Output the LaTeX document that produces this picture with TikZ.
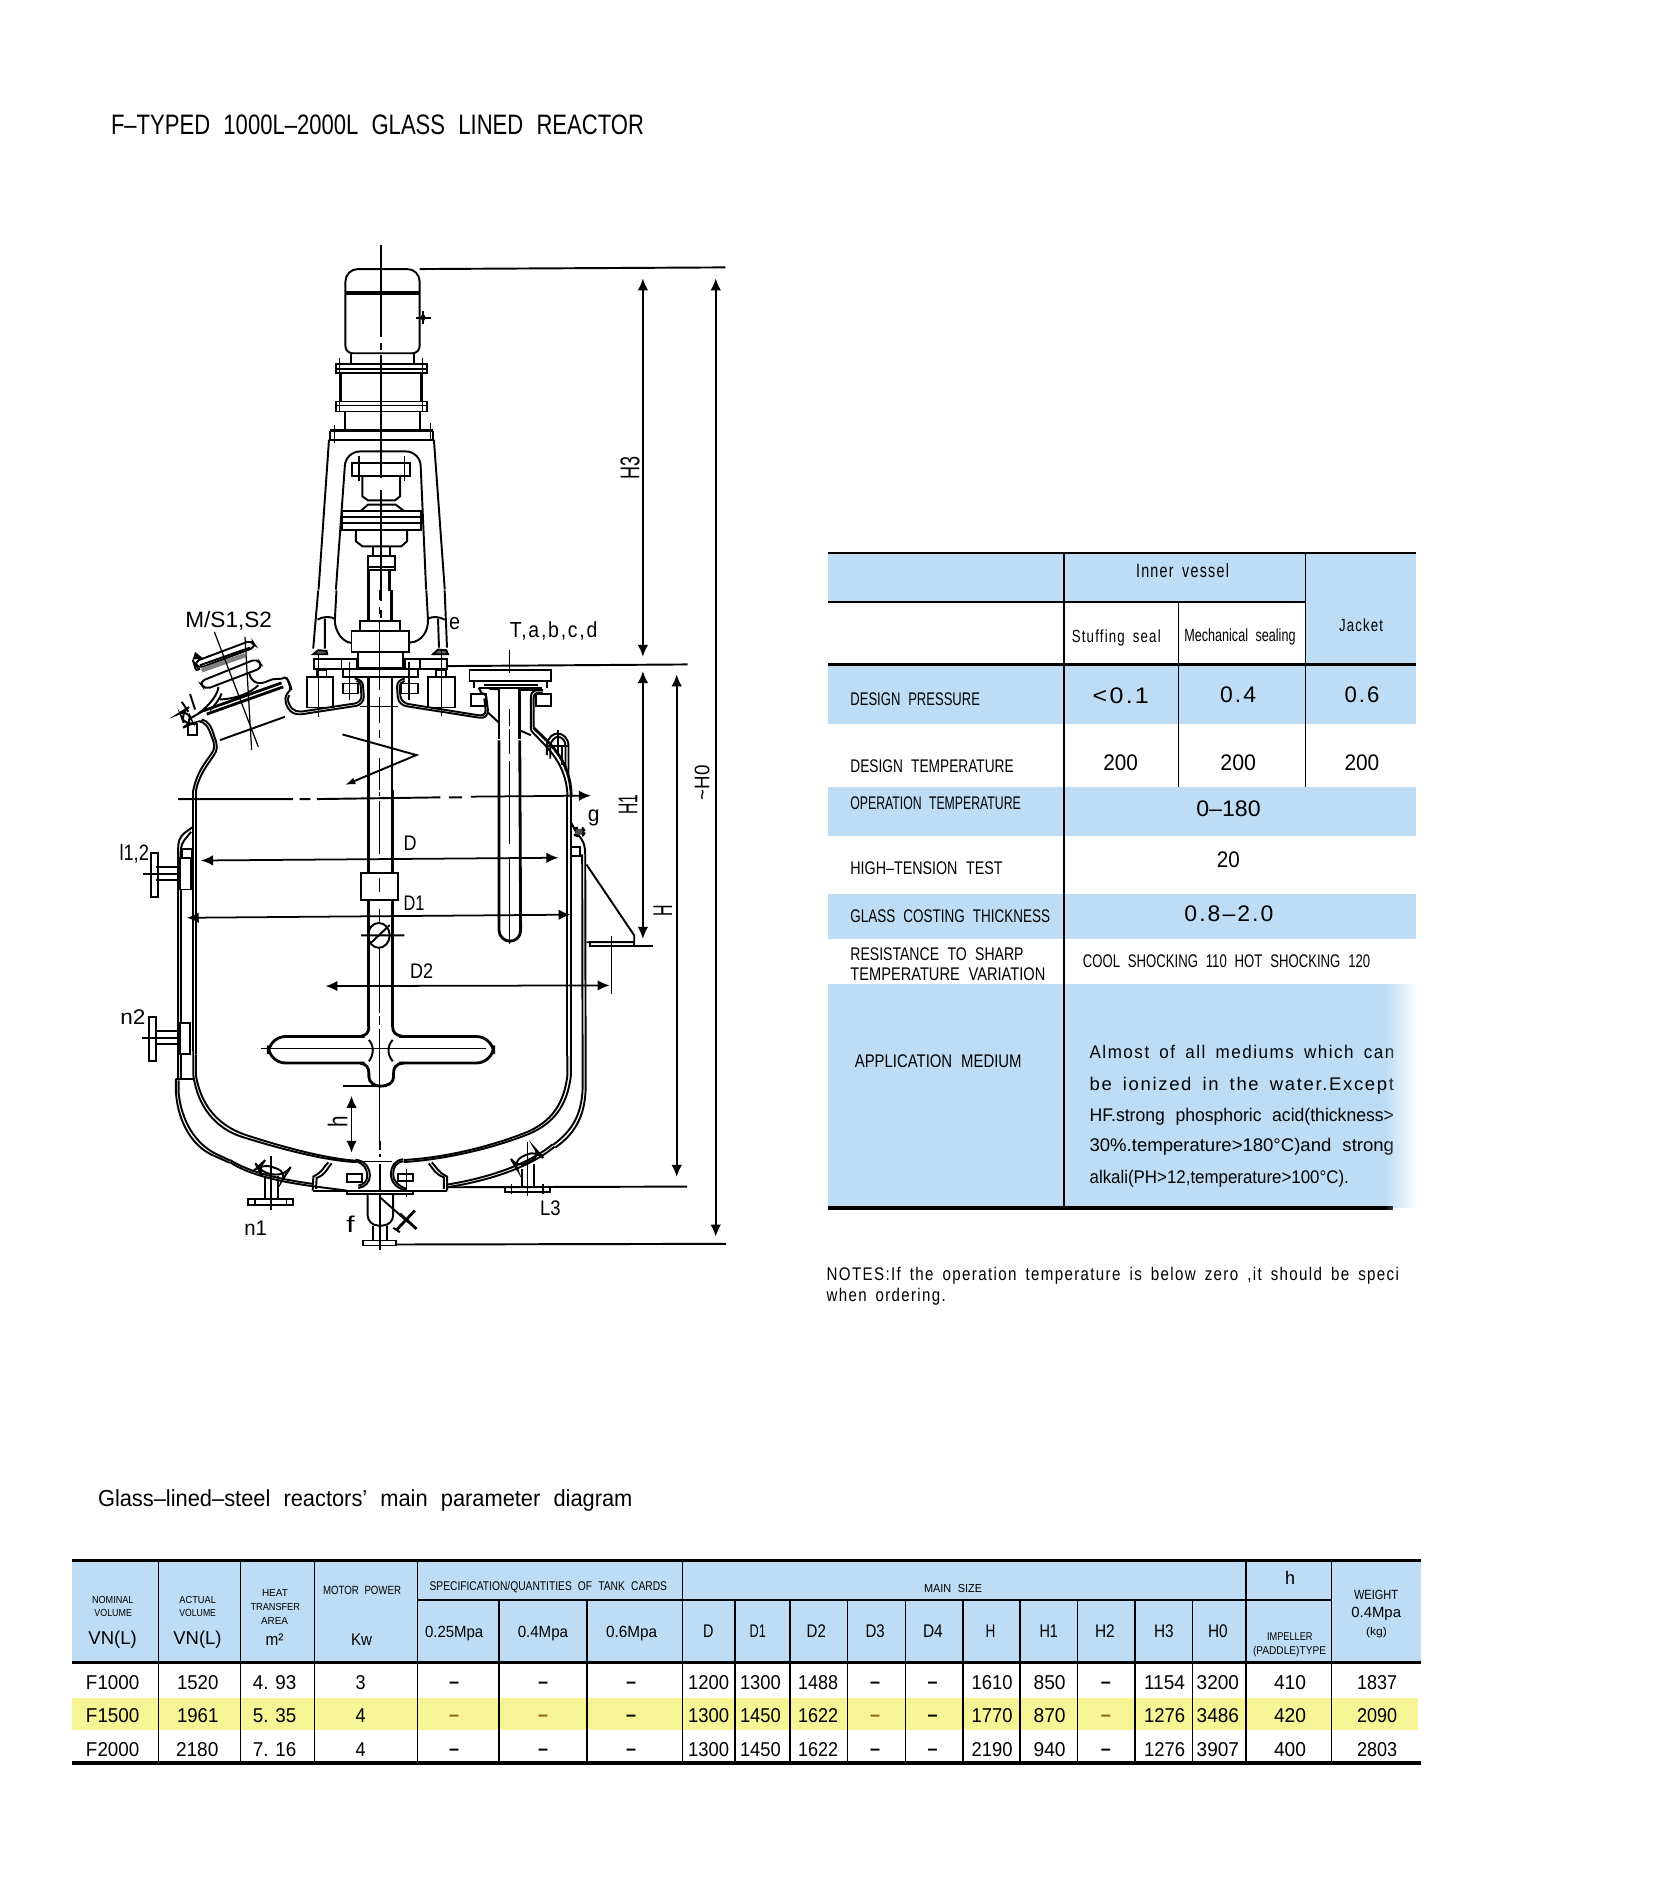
\documentclass[tikz,border=0pt]{standalone}
\usepackage{graphicx}
\usepackage{fontspec}
\setmainfont{Liberation Sans}
\usetikzlibrary{arrows.meta,fadings}
\definecolor{hblue}{RGB}{190,221,244}
\definecolor{hyel}{RGB}{247,244,150}
\definecolor{dashbr}{RGB}{140,105,20}
\newlength\pxu\setlength\pxu{0.01cm}
\newcounter{tn}
\newcommand{\ls}{\addfontfeature{LetterSpace=9}}
% x1 x2 baseline size text
\newcommand{\TL}[5]{\stepcounter{tn}\pgfmathsetmacro\tlwidth{#2-#1}\node[anchor=base west,inner sep=0pt,outer sep=0pt] (t\arabic{tn}) at (#1,#3) {\fontsize{#4}{#4}\selectfont\spaceskip=0.6em\resizebox{\tlwidth\pxu}{\height}{#5}};}
% centre-x centre-y length size text (rotated)
\newcommand{\TR}[5]{\stepcounter{tn}\node[anchor=center,rotate=90,inner sep=0pt,outer sep=0pt] (t\arabic{tn}) at (#1,#2) {\fontsize{#4}{#4}\selectfont\resizebox{#3\pxu}{\height}{#5}};}
\tikzset{
 ln/.style={line width=0.55pt},
 thn/.style={line width=0.35pt},
 hvy/.style={line width=0.8pt},
 rule/.style={line width=0.4pt},
 rulethick/.style={line width=0.75pt},
 dimboth/.style={line width=0.5pt,{Latex[length=3.4pt,width=3pt]}-{Latex[length=3.4pt,width=3pt]}},
 dimend/.style={line width=0.5pt,-{Latex[length=3.4pt,width=3pt]}},
 zone/.style={xshift=1cm,yshift=-2.3cm,x=0.004336cm,y=-0.003333cm},
 zlow/.style={xshift=1cm,yshift=-7.4cm,x=0.004336cm,y=-0.003444cm},
 zthree/.style={xshift=1.7cm,yshift=-5.9cm,x=0.003333cm,y=-0.003333cm},
 zneck/.style={xshift=5cm,yshift=-6.4cm,x=0.003333cm,y=-0.003333cm},
 zfoot/.style={xshift=2.3cm,yshift=-11.4cm,x=0.003333cm,y=-0.003333cm}
}
\begin{document}
\begin{tikzpicture}[x=0.01cm,y=-0.01cm]
\useasboundingbox (0,0) rectangle (1653,1889);
\fill[white] (0,0) rectangle (1653,1889);

\TL{111}{644}{135}{8}{F–TYPED 1000L–2000L GLASS LINED REACTOR}

% ===== reactor, upper part
\begin{scope}[zone]
\draw[thn] (648,45)--(648,320) (648,340)--(648,360) (648,375)--(648,745) (648,780)--(648,1115) (648,1140)--(648,1165);
% motor
\draw[ln,rounded corners=3.5pt] (566,190)--(566,117)--(737,117)--(737,190);
\draw[ln] (566,186)--(737,186) (566,193)--(737,193);
\draw[ln,rounded corners=2pt] (566,190)--(566,370)--(737,370)--(737,190);
\draw[ln] (728,263)--(764,263) (745,243)--(745,283);
\fill (745,250)--(752,263)--(745,276)--(738,263)--cycle;
\draw[ln] (578,370)--(578,403) (723,370)--(723,403);
% reducer flanges
\draw[ln] (545,403) rectangle (755,430) (545,418)--(755,418);
\draw[ln] (545,515) rectangle (755,545) (545,527)--(755,527);
\draw[ln] (556,430)--(556,515) (740,430)--(740,515);
\draw[thn] (553,385)--(553,545) (743,385)--(743,545);
\draw[ln] (566,545)--(566,603) (738,545)--(738,603);
% lantern
\draw[hvy] (530,603)--(767,603);
\draw[ln] (530,603)--(530,630)--(767,630)--(767,603);
\draw[thn] (540,585)--(540,640) (762,580)--(762,632);
\draw[ln] (528,630)--(504,1080) (770,630)--(795,1080);
\draw[ln,rounded corners=4pt] (544,1080)--(567,665)--(738,665)--(752,1080);
% coupling
\draw[ln] (582,700) rectangle (715,738);
\draw[thn] (597,680)--(597,755) (703,680)--(703,755);
\draw[ln] (605,738)--(605,800)--(618,812)--(680,812)--(692,800)--(692,738);
\draw[ln] (600,845)--(618,825)--(682,825)--(702,845);
\draw[ln] (558,845) rectangle (740,900) (558,862)--(740,862) (558,880)--(740,880);
\draw[ln] (590,900)--(590,935)--(605,950)--(695,950)--(708,935)--(708,900);
\draw[ln] (630,950)--(630,980) (668,950)--(668,980);
\draw[ln] (617,980) rectangle (680,1020) (617,1013)--(680,1013);
\draw[hvy] (620,1020)--(620,1085) (668,1020)--(668,1085);
% T nozzle
\draw[ln] (852,1322) rectangle (1040,1355);
\draw[ln] (862,1355)--(862,1375) (1030,1355)--(1030,1375);
\draw[ln] (873,1375)--(1020,1375) (885,1366)--(1010,1366);
\draw[ln] (855,1395) rectangle (890,1430) (1005,1395) rectangle (1040,1430);
\draw[hvy] (920,1380)--(920,1530) (968,1380)--(968,1530);
\draw[ln] (873,1375)--(880,1390) (920,1380)--(897,1378);
\draw[ln] (895,1450)--(920,1480);
\draw[thn] (945,1262)--(945,1330) (945,1440)--(945,1490) (945,1500)--(945,1530);
% H3 / H0 / H1 / H
\draw[dimboth] (1252,145)--(1252,1282);
\draw[-{Latex[length=3.4pt,width=3pt]},line width=0.5pt] (1420,1540)--(1420,145);
\draw[-{Latex[length=3.4pt,width=3pt]},line width=0.5pt] (1252,1540)--(1252,1325);
\draw[-{Latex[length=3.4pt,width=3pt]},line width=0.5pt] (1330,1540)--(1330,1335);
\draw[ln] (737,117)--(1442,112);
\draw[ln] (800,1310)--(1355,1305);
\end{scope}

% ===== head of the vessel
\begin{scope}[zthree]
% lantern feet
\draw[ln] (445,0)--(430,175) (825,0)--(832,172);
\draw[ln] (500,0)--(495,90) .. controls (495,120) and (515,155) .. (545,158);
\draw[ln] (770,0)--(775,90) .. controls (775,125) and (755,155) .. (720,157);
\draw[ln] (443,88) .. controls (460,78) and (480,78) .. (495,85);
\draw[ln] (775,85) .. controls (790,78) and (805,78) .. (825,88);
\draw[ln] (465,85)--(465,175) (805,85)--(808,172);
\draw[ln,fill=black!60] (430,192)--(445,180)--(470,182)--(472,192)--cycle;
\draw[ln,fill=black!60] (790,192)--(805,178)--(830,180)--(835,192)--cycle;
% stuffing stack
\draw[hvy] (595,0)--(595,92) (665,0)--(665,92);
\draw[ln] (572,92) rectangle (692,122);
\draw[ln] (545,122) rectangle (718,185);
\draw[ln] (565,185) rectangle (700,232);
\draw[ln] (432,205) rectangle (515,235) (515,205) rectangle (560,235);
\draw[ln] (705,205) rectangle (750,235) (750,205) rectangle (832,235);
\draw[ln] (520,235) rectangle (745,260);
\draw[thn] (630,0)--(630,30) (630,50)--(630,70) (630,90)--(630,300) (630,320)--(630,400) (630,420)--(630,445) (630,505)--(630,600);
% pedestals
\draw[ln] (410,260) rectangle (490,352) (775,260) rectangle (855,352);
\draw[ln] (440,240) rectangle (470,260) (800,240) rectangle (830,260);
\draw[thn] (447,195)--(447,380) (815,180)--(815,378);
\draw[ln] (520,280) rectangle (565,310) (695,280) rectangle (745,310);
\draw[thn] (538,215)--(538,330) (718,215)--(718,330);
% shaft
\draw[hvy] (595,262)--(595,600) (667,262)--(667,600);
\draw[thn] (570,348)--(595,348) (595,348)--(667,348) (667,348)--(685,348);
% head liner
\draw[ln] (555,265) .. controls (572,268) and (580,275) .. (580,290)--(582,320) .. controls (582,335) and (570,345) .. (560,347)--(410,370) .. controls (385,375) and (362,375) .. (350,345) .. controls (345,330) and (345,320) .. (352,310) .. controls (365,300) and (362,290) .. (350,262);
\draw[ln] (560,272) .. controls (570,275) and (573,280) .. (573,292)--(575,318) .. controls (575,330) and (565,338) .. (555,340)--(410,362) .. controls (385,367) and (368,365) .. (358,342) .. controls (352,328) and (353,322) .. (358,315);
\draw[ln] (705,265) .. controls (692,268) and (682,275) .. (682,290)--(684,320) .. controls (686,340) and (700,347) .. (715,349)--(925,382) .. controls (945,386) and (955,378) .. (955,360)--(950,320) .. controls (945,310) and (940,308) .. (930,308);
\draw[ln] (705,272) .. controls (697,275) and (690,280) .. (690,292)--(692,318) .. controls (694,332) and (705,340) .. (718,342)--(925,375) .. controls (940,378) and (948,372) .. (948,360)--(944,325);
% manhole
\draw[ln,rounded corners=1.5pt] (72,215)--(245,150)--(258,170)--(85,235)--cycle;
\draw[line width=1.3pt,gray] (95,240)--(225,195);
\draw[ln] (90,225)--(240,172);
\draw[ln,rounded corners=1.5pt] (88,275)--(262,205)--(278,232)--(105,298)--cycle;
\fill (68,208)--(75,185)--(100,205)--cycle;
\draw[ln] (68,208)--(78,240) (78,240)--(90,235);
\draw[ln] (238,250) .. controls (245,280) and (270,285) .. (295,272) .. controls (310,262) and (335,270) .. (345,262) .. controls (355,265) and (362,285) .. (365,300);
\draw[ln] (145,290) .. controls (145,310) and (120,345) .. (85,370);
\draw[ln] (155,310) .. controls (150,325) and (135,345) .. (120,360);
\draw[ln] (150,328) .. controls (200,325) and (240,310) .. (265,285);
\draw[hvy] (110,372)--(340,290);
\draw[hvy] (100,362)--(335,278);
\draw[ln,rounded corners=3pt] (30,368)--(50,355)--(68,400)--(45,410)--cycle;
\draw[ln] (55,402) rectangle (80,435);
\draw[ln] (60,312)--(75,358) (35,335)--(55,365);
\draw[ln] (60,385)--(100,362);
\draw[ln] (85,393) .. controls (105,395) and (115,410) .. (125,440) .. controls (135,465) and (135,475) .. (125,490) .. controls (100,525) and (80,550) .. (70,600);
\draw[ln] (95,388) .. controls (115,392) and (125,410) .. (133,440) .. controls (143,465) and (143,480) .. (132,495) .. controls (108,530) and (88,555) .. (78,600);
\draw[thn] (133,125)--(265,470) (225,140)--(245,480);
\draw[ln] (150,450)--(345,380);
% zigzag
\draw[ln,-{Latex[length=3pt,width=2pt]}] (518,433)--(740,495)--(525,585);
\end{scope}

% ===== T nozzle neck, lug, top right of the shell
\begin{scope}[zneck]
\draw[ln] (58,150)--(128,150);
\draw[ln] (128,150)--(106,150) .. controls (97,152) and (92,160) .. (92,172)--(92,270);
\draw[ln] (128,158)--(110,158) .. controls (103,160) and (100,165) .. (100,175)--(100,262);
\draw[ln] (58,270)--(92,285);
\draw[ln] (92,270) .. controls (125,310) and (200,360) .. (202,470);
\draw[hvy] (100,262) .. controls (135,300) and (212,350) .. (213,470);
\draw[ln] (140,345)--(140,315) .. controls (142,290) and (160,280) .. (172,280) .. controls (190,280) and (205,295) .. (205,318)--(205,400);
\draw[ln] (150,355)--(150,318) .. controls (152,300) and (165,290) .. (172,290) .. controls (185,290) and (196,300) .. (196,318)--(196,392);
\draw[ln] (140,316)--(205,316) (172,270)--(172,345) (185,316)--(185,375);
\end{scope}

% ===== reactor, lower part
\begin{scope}[zlow]
\draw[thn] (645,150)--(645,160) (645,175)--(645,330) (645,400)--(645,440) (645,490)--(645,530) (645,600)--(645,790) (645,800)--(645,825) (645,835)--(645,1180);
% shaft
\draw[hvy] (620,145)--(620,830) (675,145)--(675,830);
\draw[ln,fill=white] (602,385) rectangle (688,462);
\draw[thn] (645,400)--(645,440);
\draw[ln] (643,565) ellipse (25 and 36);
\draw[ln] (602,565)--(702,565) (622,590)--(668,535);
% impeller
\draw[hvy,rounded corners=5pt] (610,858)--(388,858)--(388,935)--(610,935);
\draw[hvy,rounded corners=5pt] (690,858)--(908,858)--(908,935)--(690,935);
\draw[hvy] (620,830) .. controls (620,845) and (615,855) .. (600,858);
\draw[hvy] (675,830) .. controls (675,845) and (680,855) .. (700,858);
\draw[hvy] (600,935) .. controls (615,938) and (620,950) .. (620,965)--(620,975) .. controls (620,992) and (635,1002) .. (645,1002) .. controls (665,1002) and (677,992) .. (677,975)--(677,965) .. controls (677,950) and (680,938) .. (700,935);
\draw[thn] (372,893)--(890,893);
\draw[ln] (620,868) .. controls (632,885) and (632,910) .. (620,930);
\draw[ln] (675,868) .. controls (662,885) and (662,910) .. (675,930);
\draw[ln] (560,1002)--(645,1002);
% section line
\draw[ln] (180,170)--(445,170) (460,170)--(485,170) (500,170)--(785,165) (805,165)--(835,165);
\draw[line width=0.5pt,-{Latex[length=3.4pt,width=3pt]}] (855,163)--(1132,160);
% vessel shell
\draw[ln] (215,145)--(215,900);
\draw[ln] (221,145)--(221,910);
\draw[ln] (1078,165)--(1078,915) (1086,165)--(1086,915);
% vessel dish
\draw[ln] (215,900)--(215,970) .. controls (225,1060) and (265,1125) .. (330,1150) .. controls (420,1185) and (520,1218) .. (590,1222);
\draw[ln] (221,910)--(221,970) .. controls (232,1055) and (270,1115) .. (335,1143) .. controls (420,1178) and (520,1212) .. (590,1218);
\draw[ln] (1086,915)--(1086,970) .. controls (1078,1060) and (1045,1110) .. (990,1140) .. controls (900,1185) and (790,1215) .. (700,1222);
\draw[ln] (1078,915)--(1078,970) .. controls (1070,1055) and (1040,1105) .. (985,1135) .. controls (895,1180) and (790,1210) .. (700,1216);
% jacket
\draw[ln] (215,250)--(195,268) .. controls (183,280) and (180,295) .. (180,315)--(180,980);
\draw[ln] (210,265)--(200,280) .. controls (190,295) and (186,305) .. (186,325)--(186,380);
\draw[ln] (186,432)--(186,820) (186,910)--(186,980);
\draw[ln] (175,980)--(215,980);
\draw[ln] (175,980)--(175,1020) .. controls (180,1110) and (215,1180) .. (265,1205)--(299,1224);
\draw[ln] (181,985)--(181,1020) .. controls (188,1105) and (220,1170) .. (270,1200)--(299,1217);
\draw[ln] (1085,235)--(1100,270) .. controls (1112,285) and (1119,300) .. (1119,330)--(1120,1010) .. controls (1118,1090) and (1095,1140) .. (1050,1180);
\draw[ln] (1112,330)--(1113,1010) .. controls (1110,1085) and (1090,1130) .. (1045,1172);
\draw[ln] (1085,310) rectangle (1108,335);
% g valve
\draw[line width=1.1pt,densely dotted] (1105,265) circle (11);
\fill[black!70] (1105,265) circle (9);
% l1,2 nozzle
\draw[ln] (118,325) rectangle (133,455);
\draw[ln] (130,367)--(185,367) (130,405)--(185,405);
\draw[ln] (100,388)--(185,388);
\draw[ln] (188,315) rectangle (212,340);
\draw[ln,fill=white] (185,340) rectangle (210,432);
% n2 nozzle
\draw[ln] (113,802) rectangle (130,928);
\draw[ln] (128,843)--(185,843) (128,880)--(185,880);
\draw[ln] (97,863)--(185,863);
\draw[ln] (185,820) rectangle (207,908);
% T tube
\draw[hvy] (920,0)--(920,550) .. controls (920,570) and (935,582) .. (945,582) .. controls (958,582) and (970,570) .. (970,550)--(968,0);
\draw[thn] (945,-5)--(945,40) (945,60)--(945,300) (945,340)--(945,590);
% bracket
\draw[ln] (1122,360)--(1232,565)--(1232,585)--(1122,585);
\draw[ln] (1130,585) rectangle (1232,597);
\draw[ln] (1232,597)--(1275,597);
\draw[thn] (1180,568)--(1180,735);
% dimension arrows
\draw[dimboth] (233,348)--(1057,340);
\draw[dimboth] (200,514)--(1085,505);
\draw[dimboth] (520,712)--(1175,710);
\draw[dimboth] (580,1030)--(580,1195);
\draw[dimend] (1252,0)--(1252,575);
\draw[dimend] (1330,0)--(1330,1265);
\draw[dimend] (1420,0)--(1420,1438);
\end{scope}

% ===== bottom nozzles and feet
\begin{scope}[zfoot]
\draw[thn] (450,0)--(450,28) (450,40)--(450,50) (450,70)--(450,330);
% n1
\draw[ln] (55,175) rectangle (190,193);
\draw[ln] (105,105)--(105,175) (143,105)--(143,175);
\draw[thn] (123,45)--(123,208) (75,175)--(75,193) (170,175)--(170,193);
\draw[ln,rounded corners=3pt] (82,80)--(95,68)--(172,95)--(165,106)--(90,96)--cycle;
% jacket bottom
\draw[ln] (0,65) .. controls (60,105) and (160,125) .. (250,137);
\draw[ln] (0,58) .. controls (60,97) and (160,118) .. (250,130);
\draw[ln] (250,137)--(350,150);
\draw[ln] (975,18) .. controls (900,80) and (780,120) .. (652,140);
\draw[ln] (969,11) .. controls (895,72) and (775,112) .. (652,132);
% outlet necks
\draw[ln] (248,150)--(250,108) .. controls (280,92) and (280,80) .. (295,65);
\draw[ln] (258,145)--(260,112) .. controls (290,100) and (290,85) .. (305,68);
\draw[ln] (652,150)--(652,108) .. controls (625,95) and (620,80) .. (606,65);
\draw[ln] (642,145)--(642,110) .. controls (615,100) and (610,85) .. (597,68);
\draw[ln] (248,150)--(652,150);
% lobes
\draw[ln] (377,62) .. controls (402,68) and (412,85) .. (412,105) .. controls (412,122) and (402,132) .. (385,135);
\draw[ln] (377,57) .. controls (410,62) and (420,85) .. (420,105) .. controls (420,125) and (405,140) .. (385,142);
\draw[ln] (520,62) .. controls (498,65) and (490,80) .. (490,100) .. controls (490,125) and (510,138) .. (530,145);
\draw[ln] (520,56) .. controls (495,58) and (483,78) .. (483,100) .. controls (483,128) and (505,145) .. (530,150);
\draw[ln] (350,100) rectangle (395,125) (505,100) rectangle (550,122);
\draw[thn] (345,62)--(485,62) (530,85)--(530,170);
% flange
\draw[ln,fill=white] (350,150) rectangle (550,160);
\draw[hvy] (350,151)--(550,151);
% tail
\draw[ln,rounded corners=3pt] (413,160)--(413,255)--(490,255)--(490,160);
\draw[ln] (430,255)--(430,300) (470,255)--(470,300);
\draw[ln] (400,300) rectangle (498,315);
\draw[ln] (498,312)--(1490,310);
\draw[ln] (450,170)--(535,245);
\draw[hvy] (500,268)--(555,210) (510,220)--(560,265);
\draw[ln] (490,262)--(510,275);
% L3
\draw[ln] (825,140) rectangle (960,155);
\draw[ln] (878,85)--(878,140) (912,70)--(912,140);
\draw[thn] (893,5)--(893,165) (845,130)--(845,160) (940,130)--(940,160);
\draw[ln,rounded corners=3pt] (848,62)--(920,28)--(935,45)--(860,82)--cycle;
\draw[ln] (652,140)--(1373,138);
\end{scope}

% drawing labels
\TL{185.4}{272}{627.3}{6.3}{M/S1,S2}
\TL{449}{460}{629.3}{6.4}{e}
\TL{509.8}{597.4}{637.3}{6.2}{\ls T,a,b,c,d}
\TL{119.5}{149}{860.5}{6.3}{l1,2}
\TL{120.4}{145.5}{1024}{6}{n2}
\TL{587.9}{599.6}{821}{6.2}{g}
\TL{403.6}{416.6}{850.9}{6}{D}
\TL{403.6}{424.4}{910.5}{6}{D1}
\TL{410}{433}{978.6}{6}{D2}
\TL{244.4}{267}{1235.9}{6}{n1}
\TL{346.3}{354.6}{1232.4}{6.5}{f}
\TL{540}{560.5}{1215.9}{6}{L3}
\TR{630}{468.3}{23}{7.7}{H3}
\TR{628}{804.7}{20}{7.7}{H1}
\TR{662.9}{911}{11.5}{7.7}{H}
\TR{702}{783}{35}{6}{\textasciitilde H0}
\TR{337.6}{1122.2}{11.5}{7.7}{h}

% ===== right table
\fill[hblue] (827.5,553) rectangle (1415.6,602);
\fill[hblue] (1305.4,553) rectangle (1415.6,664.7);
\fill[hblue] (827.5,664.7) rectangle (1415.6,724);
\fill[hblue] (827.5,786.7) rectangle (1415.6,836);
\fill[hblue] (827.5,894) rectangle (1415.6,939);
\fill[hblue] (827.5,984.3) rectangle (1417,1208);
\draw[rulethick] (827.5,553)--(1415.6,553) (827.5,664.7)--(1415.6,664.7);
\draw[rule] (827.5,602)--(1305.4,602);
\draw[rule] (1064,553)--(1064,1208);
\draw[rule] (1178.5,602)--(1178.5,786.7);
\draw[rule] (1305.4,553)--(1305.4,786.7);
\draw[line width=0.9pt] (827.5,1208)--(1393,1208);
\TL{1136}{1229}{577.3}{5.5}{\ls Inner vessel}
\TL{1071.8}{1160.7}{642.7}{5}{\ls Stuffing seal}
\TL{1184.4}{1295.5}{642}{5}{Mechanical sealing}
\TL{1339}{1383}{631.7}{5}{\ls Jacket}
\TL{850.4}{980}{705.7}{5.2}{DESIGN PRESSURE}
\TL{1092.7}{1148.9}{703.3}{6.4}{\ls <0.1}
\TL{1220}{1256}{702.3}{6.4}{\ls 0.4}
\TL{1344.5}{1379.3}{702.3}{6.4}{\ls 0.6}
\TL{850.4}{1013.7}{772.3}{5.2}{DESIGN TEMPERATURE}
\TL{1103.4}{1138}{770}{6.4}{200}
\TL{1220.4}{1256}{770}{6.4}{200}
\TL{1344.5}{1379.3}{770}{6.4}{200}
\TL{850.4}{1020.8}{809.3}{5.2}{OPERATION TEMPERATURE}
\TL{1196.3}{1260.7}{816.7}{6.4}{0–180}
\TL{850.4}{1002.6}{874}{5.2}{HIGH–TENSION TEST}
\TL{1216.8}{1239.8}{867.3}{6.4}{20}
\TL{850.4}{1050}{922.3}{5.2}{GLASS COSTING THICKNESS}
\TL{1184.4}{1273.4}{921}{6.4}{\ls 0.8–2.0}
\TL{850.4}{1023.6}{960}{5.2}{RESISTANCE TO SHARP}
\TL{850.4}{1045.3}{980}{5.2}{TEMPERATURE VARIATION}
\TL{1082.8}{1370.2}{967.3}{5.2}{COOL SHOCKING 110 HOT SHOCKING 120}
\TL{854.8}{1021.6}{1067.3}{5.2}{APPLICATION MEDIUM}
\TL{1089.6}{1394.3}{1058.3}{5.2}{\ls Almost of all mediums which can}
\TL{1089.6}{1394}{1090}{5.2}{\ls be ionized in the water.Except}
\TL{1089.6}{1394}{1121.7}{5.2}{HF.strong phosphoric acid(thickness>}
\TL{1089.6}{1394}{1151.7}{5.2}{30\%.temperature>180°C)and strong}
\TL{1089.6}{1348.9}{1183.3}{5.2}{alkali(PH>12,temperature>100°C).}
\fill[white,path fading=west] (1385,984.3) rectangle (1418,1212);
\TL{826.7}{1399}{1280}{5.2}{\ls NOTES:If the operation temperature is below zero ,it should be speci}
\TL{826.7}{945.7}{1301.7}{5.2}{\ls when ordering.}

% ===== lower table
\TL{98}{632.5}{1506.7}{6.6}{Glass–lined–steel reactors’ main parameter diagram}
\fill[hblue] (71.5,1560) rectangle (1420.7,1662.7);
\fill[hyel] (71.5,1698) rectangle (1418,1730);
\draw[line width=0.85pt] (71.5,1560)--(1420.7,1560);
\draw[line width=0.85pt] (71.5,1662.7)--(1420.7,1662.7);
\draw[line width=0.95pt] (71.5,1763)--(1420.7,1763);
\draw[rule] (417.2,1600)--(1331.3,1600);
\foreach \x in {158.7,240.4,314.4,417.2,682.6,1245.8,1331.3} \draw[rule] (\x,1560)--(\x,1763);
\foreach \x in {499,587,735,790,847.5,905.4,963,1020,1077.3,1134.8,1192.3} \draw[rule] (\x,1600)--(\x,1763);
\TL{92}{133.5}{1603.3}{2.9}{NOMINAL}
\TL{94.4}{132}{1616}{2.9}{VOLUME}
\TL{88.5}{136.7}{1644}{5.3}{VN(L)}
\TL{179.4}{216}{1603.3}{2.9}{ACTUAL}
\TL{179.4}{216}{1616}{2.9}{VOLUME}
\TL{173.4}{221.6}{1644}{5.3}{VN(L)}
\TL{262}{288}{1596.7}{2.9}{HEAT}
\TL{250.5}{300}{1610}{2.9}{TRANSFER}
\TL{261}{288}{1624}{2.9}{AREA}
\TL{265.7}{283.6}{1645}{4.8}{m²}
\TL{323}{401}{1594}{3.4}{MOTOR POWER}
\TL{351}{372}{1645.7}{4.8}{Kw}
\TL{429.6}{667}{1590}{3.6}{SPECIFICATION/QUANTITIES OF TANK CARDS}
\TL{425}{483.3}{1637.3}{4.6}{0.25Mpa}
\TL{517.8}{568}{1637.3}{4.6}{0.4Mpa}
\TL{606}{657}{1637.3}{4.6}{0.6Mpa}
\TL{703}{713.4}{1637.3}{5.2}{D}
\TL{749.7}{766}{1637.3}{5.2}{D1}
\TL{806.7}{825.9}{1637.3}{5.2}{D2}
\TL{865.6}{884.8}{1637.3}{5.2}{D3}
\TL{923}{942.8}{1637.3}{5.2}{D4}
\TL{985.5}{995.3}{1637.3}{5.2}{H}
\TL{1039.5}{1058}{1637.3}{5.2}{H1}
\TL{1095}{1114.7}{1637.3}{5.2}{H2}
\TL{1154}{1173.6}{1637.3}{5.2}{H3}
\TL{1208}{1227.6}{1637.3}{5.2}{H0}
\TL{924}{982}{1592}{3.3}{MAIN SIZE}
\TL{1285}{1295}{1584}{5.2}{h}
\TL{1267}{1312.6}{1640.7}{3.2}{IMPELLER}
\TL{1253}{1326}{1654}{3.2}{(PADDLE)TYPE}
\TL{1354}{1398}{1599.3}{3.8}{WEIGHT}
\TL{1351.4}{1401}{1617.3}{4.2}{0.4Mpa}
\TL{1366}{1387}{1635}{3.2}{(kg)}
% rows
\TL{86}{139.4}{1689}{5.7}{F1000}
\TL{177}{218.4}{1689}{5.7}{1520}
\TL{252.8}{296.4}{1689}{5.7}{\spaceskip=0pt 4. 93}
\TL{355.5}{365.5}{1689}{5.7}{3}
\TL{688}{729}{1689}{5.7}{1200}
\TL{740}{780.7}{1689}{5.7}{1300}
\TL{798}{838}{1689}{5.7}{1488}
\TL{971.7}{1012.5}{1689}{5.7}{1610}
\TL{1033.6}{1065.6}{1689}{5.7}{850}
\TL{1144}{1185}{1689}{5.7}{1154}
\TL{1196.7}{1239}{1689}{5.7}{3200}
\TL{1274}{1306}{1689}{5.7}{410}
\TL{1357}{1397}{1689}{5.7}{1837}
\TL{86}{139.4}{1722.7}{5.7}{F1500}
\TL{177}{218.4}{1722.7}{5.7}{1961}
\TL{252.8}{296.4}{1722.7}{5.7}{\spaceskip=0pt 5. 35}
\TL{355.5}{365.5}{1722.7}{5.7}{4}
\TL{688}{729}{1722.7}{5.7}{1300}
\TL{740}{780.7}{1722.7}{5.7}{1450}
\TL{798}{838}{1722.7}{5.7}{1622}
\TL{971.7}{1012.5}{1722.7}{5.7}{1770}
\TL{1033.6}{1065.6}{1722.7}{5.7}{870}
\TL{1144}{1185}{1722.7}{5.7}{1276}
\TL{1196.7}{1239}{1722.7}{5.7}{3486}
\TL{1274}{1306}{1722.7}{5.7}{420}
\TL{1357}{1397}{1722.7}{5.7}{2090}
\TL{86}{139.4}{1756}{5.7}{F2000}
\TL{176}{218.4}{1756}{5.7}{2180}
\TL{252.8}{296.4}{1756}{5.7}{\spaceskip=0pt 7. 16}
\TL{355.5}{365.5}{1756}{5.7}{4}
\TL{688}{729}{1756}{5.7}{1300}
\TL{740}{780.7}{1756}{5.7}{1450}
\TL{798}{838}{1756}{5.7}{1622}
\TL{971.7}{1012.5}{1756}{5.7}{2190}
\TL{1033.6}{1065.6}{1756}{5.7}{940}
\TL{1144}{1185}{1756}{5.7}{1276}
\TL{1196.7}{1239}{1756}{5.7}{3907}
\TL{1274}{1306}{1756}{5.7}{400}
\TL{1357}{1397}{1756}{5.7}{2803}
\foreach \x in {454,543,631,875,932.5,1105.8} {
 \pgfmathsetmacro\xa{\x-5}\pgfmathsetmacro\xb{\x+5}
 \TL{\xa}{\xb}{1688}{5.7}{\bfseries –}
 \TL{\xa}{\xb}{1755}{5.7}{\bfseries –}
}
\foreach \x in {454,543,875,1105.8} {
 \pgfmathsetmacro\xa{\x-5}\pgfmathsetmacro\xb{\x+5}
 \TL{\xa}{\xb}{1721.7}{5.7}{\color{dashbr}\bfseries –}
}
\foreach \x in {631,932.5} {
 \pgfmathsetmacro\xa{\x-5}\pgfmathsetmacro\xb{\x+5}
 \TL{\xa}{\xb}{1721.7}{5.7}{\bfseries –}
}
\end{tikzpicture}
\end{document}
